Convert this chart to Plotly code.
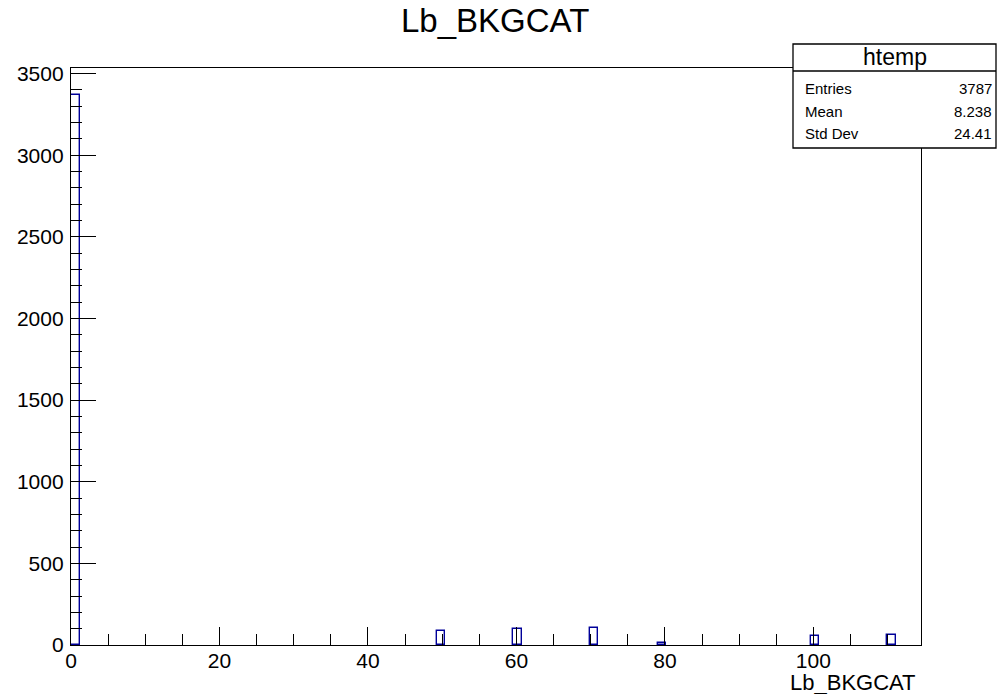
import math
import plotly.graph_objects as go

# ---- data ----
bin_values = [0, 50, 60, 70, 80, 100, 110]      # Lb_BKGCAT categories
bin_counts = [3366, 84, 97, 104, 15, 58, 63]     # entries per bin
x_ticks = [0, 20, 40, 60, 80, 100]
y_ticks = [0, 500, 1000, 1500, 2000, 2500, 3000, 3500]
stats_labels = ["Entries", "Mean", "Std Dev"]
stats_values = ["3787", "8.238", "24.41"]

X_MAX = 114.5
N_BINS = 100
BIN_W = X_MAX / N_BINS
Y_MAX = 1.05 * max(bin_counts)

centers = [(math.floor(v / BIN_W) + 0.5) * BIN_W for v in bin_values]

FONT = "Liberation Sans, Arial, Helvetica, sans-serif"
NAVY = "#000099"

fig = go.Figure()
fig.add_trace(go.Bar(
    x=centers, y=bin_counts, width=[BIN_W] * len(centers),
    marker=dict(color="rgba(0,0,0,0)", line=dict(color=NAVY, width=1.4)),
    hoverinfo="x+y",
))

L, R, T, B = 71, 921, 68, 645
W, H = 998, 694
def px(x):
    return (x - L) / (R - L)
def py(y):
    return (B - y) / (B - T)

axis_common = dict(
    showline=True, linecolor="black", linewidth=1.4, mirror=True,
    ticks="inside", tickcolor="black", tickwidth=1.3,
    showgrid=False, zeroline=False,
    tickfont=dict(family=FONT, size=21, color="black"),
)
fig.update_xaxes(
    range=[0, X_MAX], tickvals=x_ticks, ticklen=18, ticklabelstandoff=-3,
    minor=dict(ticks="inside", dtick=5, ticklen=11, tickcolor="black", tickwidth=1.3, showgrid=False),
    **axis_common,
)
fig.update_yaxes(
    range=[0, Y_MAX], tickvals=y_ticks, ticklen=25, ticklabelstandoff=2,
    minor=dict(ticks="inside", dtick=100, ticklen=11, tickcolor="black", tickwidth=1.3, showgrid=False),
    **axis_common,
)

shapes = [
    dict(type="rect", xref="paper", yref="paper",
         x0=px(793), x1=px(996), y0=py(148), y1=py(44),
         fillcolor="white", line=dict(color="black", width=1.3), layer="above"),
    dict(type="line", xref="paper", yref="paper",
         x0=px(793), x1=px(996), y0=py(71), y1=py(71),
         line=dict(color="black", width=1.3), layer="above"),
]

annotations = [
    dict(text="Lb_BKGCAT", xref="paper", yref="paper", x=px(495), y=py(20),
         xanchor="center", yanchor="middle", showarrow=False,
         font=dict(family=FONT, size=33, color="black")),
    dict(text="Lb_BKGCAT", xref="paper", yref="paper", x=px(918), y=py(682),
         xanchor="right", yanchor="middle", showarrow=False,
         font=dict(family=FONT, size=22, color="black")),
    dict(text="htemp", xref="paper", yref="paper", x=px(895), y=py(57),
         xanchor="center", yanchor="middle", showarrow=False,
         font=dict(family=FONT, size=23, color="black")),
]
row_y = [88, 111, 133]
for lab, val, yy in zip(stats_labels, stats_values, row_y):
    annotations.append(dict(text=lab, xref="paper", yref="paper", x=px(803), y=py(yy),
                            xanchor="left", yanchor="middle", showarrow=False,
                            font=dict(family=FONT, size=15, color="black")))
    annotations.append(dict(text=val, xref="paper", yref="paper", x=px(994), y=py(yy),
                            xanchor="right", yanchor="middle", showarrow=False,
                            font=dict(family=FONT, size=15, color="black")))

fig.update_layout(
    width=W, height=H,
    margin=dict(l=L, r=W - R, t=T, b=H - B),
    paper_bgcolor="white", plot_bgcolor="white",
    showlegend=False, bargap=0,
    shapes=shapes, annotations=annotations,
    font=dict(family=FONT, color="black"),
)

fig.write_html(
    "out.html",
    config={"displayModeBar": False},
    post_script="document.body.style.margin='0';document.body.style.overflow='hidden';",
)
